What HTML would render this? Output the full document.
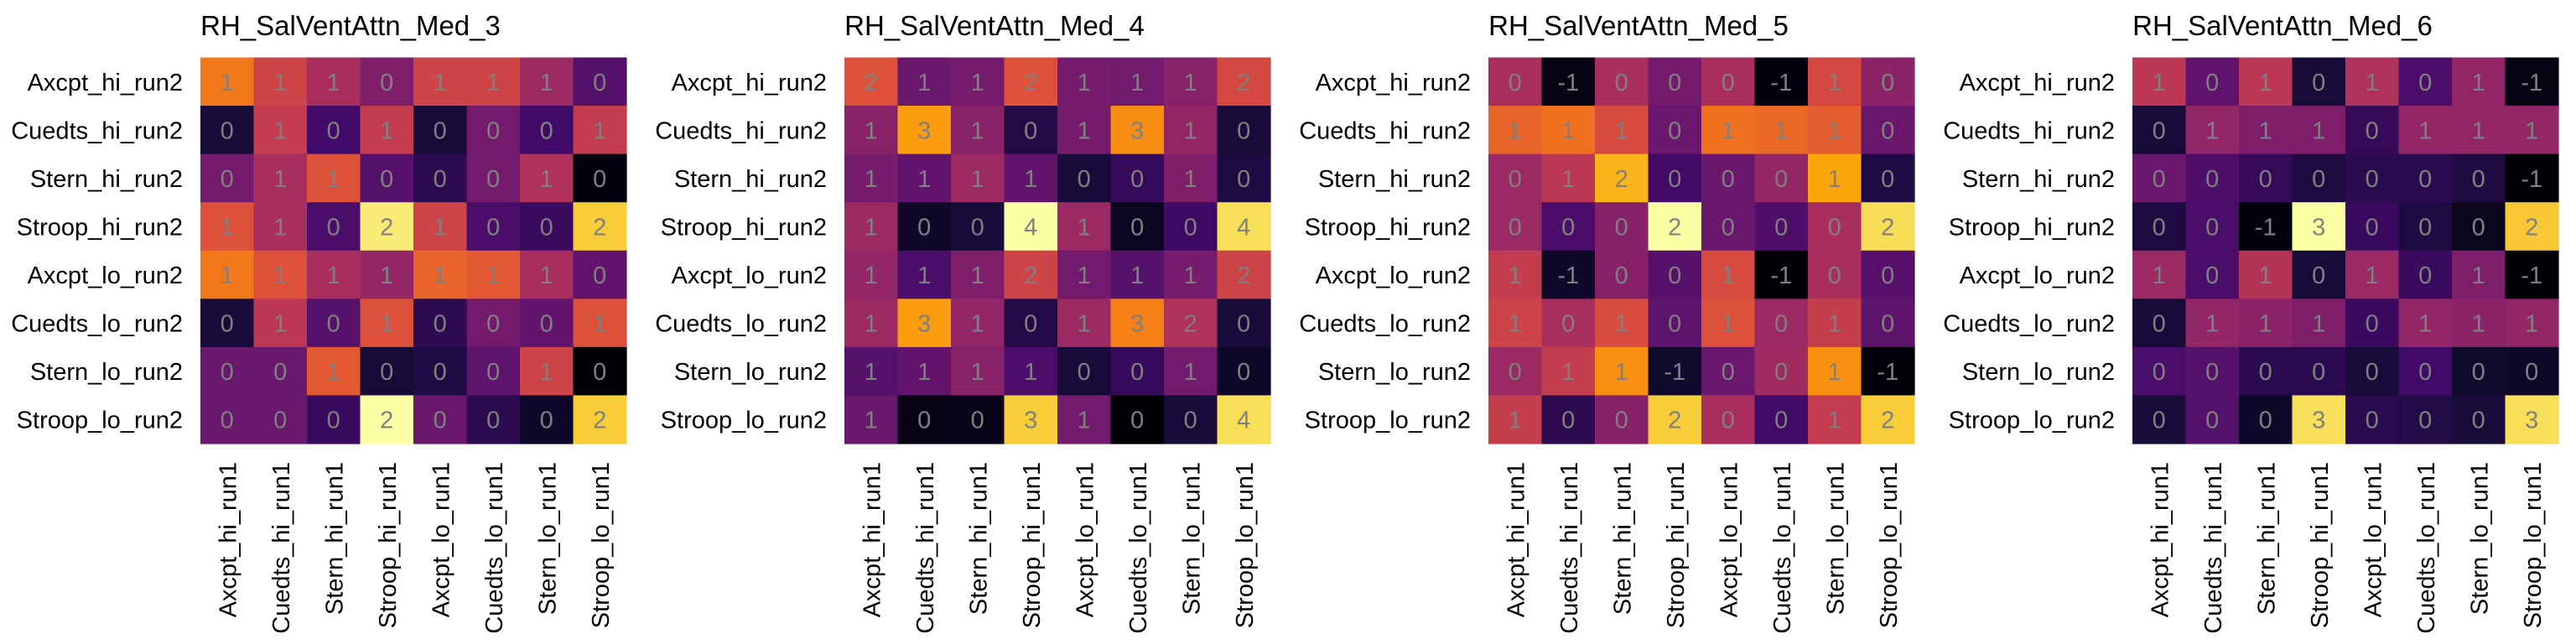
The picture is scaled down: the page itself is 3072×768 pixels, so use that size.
<!DOCTYPE html>
<html><head><meta charset="utf-8"><style>
html,body{margin:0;padding:0;background:#fff;}
svg{display:block;font-family:"Liberation Sans",Arial,sans-serif;}
</style></head><body>
<svg id="chart" width="3072" height="768" viewBox="0 0 3072 768"></svg>
<script>
const titles = ["RH_SalVentAttn_Med_3","RH_SalVentAttn_Med_4","RH_SalVentAttn_Med_5","RH_SalVentAttn_Med_6"];
const rowLabels = ["Axcpt_hi_run2","Cuedts_hi_run2","Stern_hi_run2","Stroop_hi_run2","Axcpt_lo_run2","Cuedts_lo_run2","Stern_lo_run2","Stroop_lo_run2"];
const colLabels = ["Axcpt_hi_run1","Cuedts_hi_run1","Stern_hi_run1","Stroop_hi_run1","Axcpt_lo_run1","Cuedts_lo_run1","Stern_lo_run1","Stroop_lo_run1"];
const med3 = [
 [1.26,0.90,0.66,0.42,0.90,0.90,0.59,0.18],
 [-0.18,0.83,0.06,0.83,-0.18,0.35,0.06,0.83],
 [0.35,0.66,1.02,0.18,-0.06,0.35,0.71,-0.37],
 [1.02,0.66,0.11,1.86,0.90,0.11,0.01,1.69],
 [1.26,1.02,0.66,0.54,1.14,1.07,0.66,0.25],
 [-0.18,0.78,0.18,1.02,-0.06,0.35,0.25,1.02],
 [0.30,0.30,1.07,-0.18,-0.13,0.23,0.90,-0.42],
 [0.30,0.30,0.01,1.98,0.30,-0.06,-0.25,1.69]];
const med4 = [
 [2.24,0.94,1.07,2.24,1.07,1.02,1.24,2.11],
 [1.24,3.02,1.24,0.20,1.07,2.89,1.37,0.07],
 [1.07,0.85,1.46,0.85,0.07,0.37,1.15,0.15],
 [1.46,-0.07,0.07,3.98,1.46,-0.15,0.46,3.63],
 [1.37,0.59,1.15,2.02,1.02,0.72,1.07,2.02],
 [1.46,3.02,1.37,0.20,1.46,2.76,1.67,0.07],
 [0.72,0.85,1.24,0.59,0.07,0.37,1.02,-0.07],
 [0.94,-0.24,-0.20,3.46,1.02,-0.37,0.07,3.63]];
const med5 = [
 [0.46,-0.73,0.47,0.12,0.46,-0.75,0.80,0.26],
 [1.02,1.11,0.83,0.04,1.11,1.05,0.97,0.04],
 [0.37,0.60,1.53,-0.25,0.04,0.32,1.45,-0.47],
 [0.37,-0.19,0.23,2.01,0.04,-0.16,0.46,1.78],
 [0.66,-0.61,0.23,-0.10,0.83,-0.81,0.46,-0.10],
 [0.74,0.46,0.83,-0.05,0.88,0.37,0.68,-0.05],
 [0.37,0.66,1.31,-0.58,0.04,0.40,1.31,-0.78],
 [0.68,-0.39,0.23,1.67,0.46,-0.25,0.66,1.67]];
const med6 = [
 [1.11,0.31,1.11,-0.29,1.00,0.13,0.76,-0.54],
 [-0.29,0.76,0.58,0.58,-0.05,0.76,0.76,0.76],
 [0.41,0.17,-0.05,-0.22,-0.12,-0.12,-0.22,-0.64],
 [-0.22,0.13,-0.57,2.86,-0.01,-0.22,-0.47,2.41],
 [0.83,0.13,1.04,-0.29,0.83,-0.01,0.58,-0.64],
 [-0.29,0.76,0.69,0.58,-0.01,0.76,0.69,0.76],
 [0.13,0.23,-0.12,-0.12,-0.29,0.06,-0.36,-0.40],
 [-0.29,0.23,-0.40,2.58,-0.12,-0.19,-0.29,2.58]];
const panels = [med3, med4, med5, med6];

const infernoStops = [[0,0,4],[22,11,57],[66,10,104],[106,23,110],[147,38,103],[188,55,84],[221,81,58],[243,120,25],[252,165,10],[246,215,70],[252,255,164]];
function inferno(t){
  t = Math.max(0, Math.min(1, t));
  const p = t*(infernoStops.length-1), i = Math.min(Math.floor(p), infernoStops.length-2), f = p-i;
  const a = infernoStops[i], b = infernoStops[i+1];
  return `rgb(${Math.round(a[0]+(b[0]-a[0])*f)},${Math.round(a[1]+(b[1]-a[1])*f)},${Math.round(a[2]+(b[2]-a[2])*f)})`;
}
const NS = "http://www.w3.org/2000/svg";
const svg = document.getElementById("chart");
function mk(tag, attrs, parent){
  const e = document.createElementNS(NS, tag);
  for (const k in attrs) e.setAttribute(k, attrs[k]);
  parent.appendChild(e); return e;
}
const X0 = 239, Y0 = 68.5, W = 508, H = 460.5;
panels.forEach((data, pi) => {
  const ox = 768*pi;
  const g = mk("g", {transform:`translate(${ox},0)`}, svg);
  
  
  const flat = data.flat();
  const vmin = Math.min(...flat), vmax = Math.max(...flat);
  const nR = rowLabels.length, nC = colLabels.length;
  const cw = W/nC, ch = H/nR;
  const xPos = c => X0 + c*cw;
  const yPos = r => Y0 + r*ch;
  const t = mk("text", {x:418, y:42, "text-anchor":"middle", "font-size":33, fill:"#000"}, g);
  t.textContent = titles[pi];
  
  
  data.forEach((row, r) => {
    row.forEach((v, c) => {
      const rect = mk("rect", {x:xPos(c), y:yPos(r), width:cw+0.6, height:ch+0.6, fill:inferno((v-vmin)/(vmax-vmin))}, g);
      
      
      const lab = mk("text", {x:xPos(c)+cw/2, y:yPos(r)+ch/2+10.5, "text-anchor":"middle", "font-size":29, fill:"#808080"}, g);
      lab.textContent = String(Math.round(v)).replace("-0","0").replace(/^0$/,"0");
      if (Math.round(v) === 0) lab.textContent = "0";
      
      
    });
  });
  rowLabels.forEach((name, r) => {
    const tl = mk("text", {x:218, y:yPos(r)+ch/2+10.5, "text-anchor":"end", "font-size":29, fill:"#000"}, g);
    tl.textContent = name;
    
    
  });
  colLabels.forEach((name, c) => {
    const cx = xPos(c)+cw/2+10.5, cy = 551;
    const tl = mk("text", {x:cx, y:cy, "text-anchor":"end", "font-size":29, fill:"#000", transform:`rotate(-90 ${cx} ${cy})`}, g);
    tl.textContent = name;
    
    
  });
});
</script>
</body></html>
